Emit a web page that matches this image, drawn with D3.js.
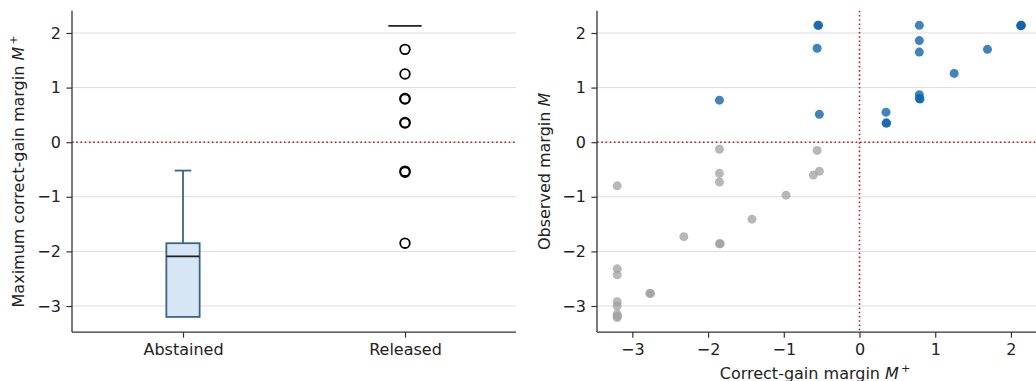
<!DOCTYPE html>
<html>
<head>
<meta charset="utf-8">
<script src="https://cdn.jsdelivr.net/npm/d3@7"></script>
<style>
  body { margin: 0; background: #fff; }
  svg { font-family: "DejaVu Sans", sans-serif; }
</style>
</head>
<body>
<div id="fig"></div>
<script>
// données du boxplot (gauche)
let categories = ["Abstained", "Released"];
let boxQ1 = [-3.2, 2.13];
let boxMedian = [-2.09, 2.13];
let boxQ3 = [-1.85, 2.13];
let whiskerLow = [-3.2, 2.13];
let whiskerHigh = [-0.52, 2.13];
let releasedFliers = [1.70, 1.25, 0.79, 0.80, 0.35, 0.36, -0.53, -0.55, -1.85];

// données du nuage de points (droite)
let correctGain = [-3.2, -3.2, -3.2, -3.2, -3.2, -3.2, -3.2, -3.2, -2.77, -2.76, -2.32,
  -1.85, -1.85, -1.85, -1.85, -1.84, -1.42, -0.97, -0.61, -0.53, -0.56,
  -1.85, -0.54, -0.55, -0.56, -0.53, 0.35, 0.35, 0.36, 0.79, 0.79, 0.79, 0.79, 0.79, 0.80,
  1.25, 1.69, 2.13, 2.13, 2.14];
let observed = [-0.80, -2.32, -2.43, -2.92, -3.0, -3.15, -3.21, -3.19, -2.77, -2.77, -1.73,
  -0.13, -0.57, -0.73, -1.86, -1.86, -1.41, -0.97, -0.60, -0.53, -0.15,
  0.77, 2.14, 2.14, 1.72, 0.51, 0.55, 0.35, 0.35, 2.14, 1.86, 1.65, 0.87, 0.80, 0.79,
  1.26, 1.70, 2.14, 2.13, 2.14];
let yTicks = [-3, -2, -1, 0, 1, 2];
let xTicks = [-3, -2, -1, 0, 1, 2];

let W = 1036, H = 381;
let yHaut = 10.7, yBas = 332.1;
let fs = 16, tk = 5.6;
let fmt = d3.format("d");

let svg = d3.select("#fig").append("svg")
  .attr("width", W).attr("height", H);

let y = d3.scaleLinear().domain([-3.478, 2.408]).range([yBas, yHaut]);

function dessinerAxeY(g, x0, x1) {
  // grille horizontale
  g.append("g").selectAll("line").data(yTicks).enter().append("line")
    .attr("x1", x0).attr("x2", x1)
    .attr("y1", d => y(d)).attr("y2", d => y(d))
    .attr("stroke", "#dddddd").attr("stroke-width", 1);
  let ax = g.append("g").attr("transform", "translate(" + x0 + ",0)")
    .call(d3.axisLeft(y).tickValues(yTicks).tickFormat(fmt).tickSize(tk).tickPadding(tk).tickSizeOuter(0));
  ax.select(".domain").remove();
  ax.selectAll("text").attr("font-size", fs).attr("fill", "#222").attr("font-family", "DejaVu Sans");
  ax.selectAll("line").attr("stroke", "#333").attr("stroke-width", 1.2);
}

function ligneZero(g, x0, x1) {
  g.append("line")
    .attr("x1", x0).attr("x2", x1).attr("y1", y(0)).attr("y2", y(0))
    .attr("stroke", "#b22222").attr("stroke-width", 1.6).attr("stroke-dasharray", "1.6,2.64");
}

function spines(g, x0, x1) {
  g.append("line").attr("x1", x0).attr("x2", x0).attr("y1", yHaut).attr("y2", yBas)
    .attr("stroke", "#333").attr("stroke-width", 1.3);
  g.append("line").attr("x1", x0).attr("x2", x1).attr("y1", yBas).attr("y2", yBas)
    .attr("stroke", "#333").attr("stroke-width", 1.3);
}

// ---- panneau gauche
let L0 = 72, L1 = 516;
let gauche = svg.append("g");
let xCat = d3.scalePoint().domain(categories).range([L0, L1]).padding(0.5);
let boxW = xCat.step() * 0.15;

dessinerAxeY(gauche, L0, L1);
ligneZero(gauche, L0, L1);

let boxes = gauche.selectAll("g.box").data(categories).enter().append("g").attr("class", "box");
let edge = "#3b6587";
// moustaches
boxes.append("line")
  .attr("x1", d => xCat(d)).attr("x2", d => xCat(d))
  .attr("y1", (d, i) => y(boxQ3[i])).attr("y2", (d, i) => y(whiskerHigh[i]))
  .attr("stroke", edge).attr("stroke-width", 1.8);
boxes.append("line")
  .attr("x1", d => xCat(d)).attr("x2", d => xCat(d))
  .attr("y1", (d, i) => y(boxQ1[i])).attr("y2", (d, i) => y(whiskerLow[i]))
  .attr("stroke", edge).attr("stroke-width", 1.8);
boxes.append("line")
  .attr("x1", d => xCat(d) - boxW / 4).attr("x2", d => xCat(d) + boxW / 4)
  .attr("y1", (d, i) => y(whiskerHigh[i])).attr("y2", (d, i) => y(whiskerHigh[i]))
  .attr("stroke", edge).attr("stroke-width", 1.8)
  .attr("display", (d, i) => whiskerHigh[i] == boxQ3[i] ? "none" : null);
boxes.append("rect")
  .attr("x", d => xCat(d) - boxW / 2).attr("width", boxW)
  .attr("y", (d, i) => y(boxQ3[i])).attr("height", (d, i) => y(boxQ1[i]) - y(boxQ3[i]))
  .attr("fill", "#d6e6f4").attr("stroke", edge).attr("stroke-width", 1.8)
  .attr("display", (d, i) => boxQ1[i] == boxQ3[i] ? "none" : null);
boxes.append("line")
  .attr("x1", d => xCat(d) - boxW / 2).attr("x2", d => xCat(d) + boxW / 2)
  .attr("y1", (d, i) => y(boxMedian[i])).attr("y2", (d, i) => y(boxMedian[i]))
  .attr("stroke", "#222").attr("stroke-width", 1.8);

gauche.selectAll("circle.flier").data(releasedFliers).enter().append("circle")
  .attr("class", "flier")
  .attr("cx", xCat("Released")).attr("cy", d => y(d)).attr("r", 4.8)
  .attr("fill", "none").attr("stroke", "#000").attr("stroke-width", 1.8);

spines(gauche, L0, L1);
let axB = gauche.append("g").attr("transform", "translate(0," + yBas + ")")
  .call(d3.axisBottom(xCat).tickSize(tk).tickPadding(tk).tickSizeOuter(0));
axB.select(".domain").remove();
axB.selectAll("text").attr("font-size", fs).attr("fill", "#222").attr("font-family", "DejaVu Sans");
axB.selectAll("line").attr("stroke", "#333").attr("stroke-width", 1.2);

let labG = gauche.append("text")
  .attr("transform", "translate(24," + ((yHaut + yBas) / 2) + ") rotate(-90)")
  .attr("text-anchor", "middle").attr("font-size", fs).attr("fill", "#222");
labG.append("tspan").text("Maximum correct-gain margin ");
labG.append("tspan").attr("font-style", "italic").text("M");
labG.append("tspan").attr("font-size", fs * 0.7).attr("dx", 2).attr("dy", -7).text("+");

// ---- panneau droit
let R0 = 597, R1 = 1041;
let droite = svg.append("g");
let x = d3.scaleLinear().domain([-3.467, 2.397]).range([R0, R1]);

dessinerAxeY(droite, R0, R1);
ligneZero(droite, R0, R1);
droite.append("line")
  .attr("x1", x(0)).attr("x2", x(0)).attr("y1", yHaut).attr("y2", yBas)
  .attr("stroke", "#b22222").attr("stroke-width", 1.6).attr("stroke-dasharray", "1.6,2.64");

droite.selectAll("circle.pt").data(correctGain).enter().append("circle")
  .attr("class", "pt")
  .attr("cx", d => x(d)).attr("cy", (d, i) => y(observed[i])).attr("r", 4.5)
  .attr("fill", (d, i) => observed[i] > 0 ? "rgb(18,100,170)" : "#a0a0a0")
  .attr("fill-opacity", (d, i) => observed[i] > 0 ? 0.8 : 0.75);

spines(droite, R0, R1);
let axX = droite.append("g").attr("transform", "translate(0," + yBas + ")")
  .call(d3.axisBottom(x).tickValues(xTicks).tickFormat(fmt).tickSize(tk).tickPadding(tk).tickSizeOuter(0));
axX.select(".domain").remove();
axX.selectAll("text").attr("font-size", fs).attr("fill", "#222").attr("font-family", "DejaVu Sans");
axX.selectAll("line").attr("stroke", "#333").attr("stroke-width", 1.2);

let labY = droite.append("text")
  .attr("transform", "translate(550," + ((yHaut + yBas) / 2) + ") rotate(-90)")
  .attr("text-anchor", "middle").attr("font-size", fs).attr("fill", "#222");
labY.append("tspan").text("Observed margin ");
labY.append("tspan").attr("font-style", "italic").text("M");

let labX = droite.append("text")
  .attr("x", (R0 + R1) / 2 - 4).attr("y", 379)
  .attr("text-anchor", "middle").attr("font-size", fs).attr("fill", "#222");
labX.append("tspan").text("Correct-gain margin ");
labX.append("tspan").attr("font-style", "italic").text("M");
labX.append("tspan").attr("font-size", fs * 0.7).attr("dx", 2).attr("dy", -7).text("+");
</script>
</body>
</html>
